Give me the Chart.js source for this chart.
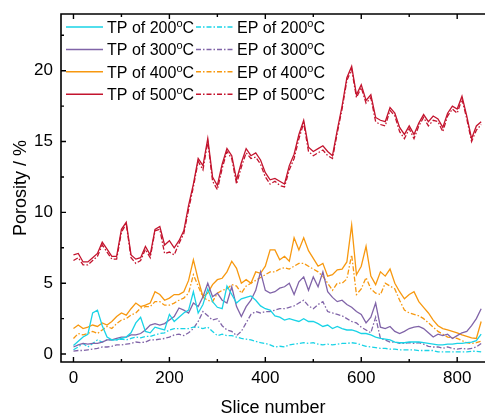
<!DOCTYPE html>
<html>
<head>
<meta charset="utf-8">
<script src="https://cdn.jsdelivr.net/npm/chart.js@4.4.1/dist/chart.umd.min.js"></script>
<style>
  html, body { margin: 0; padding: 0; background: #fff; }
  #wrap { width: 485px; height: 414px; position: relative; }
</style>
</head>
<body>
<div id="wrap"><canvas id="porosityChart"></canvas></div>
<script>
// slice numbers sampled every 10 slices
const slices = [0, 10, 20, 30, 40, 50, 60, 70, 80, 90,
    100, 110, 120, 130, 140, 150, 160, 170, 180, 190,
    200, 210, 220, 230, 240, 250, 260, 270, 280, 290,
    300, 310, 320, 330, 340, 350, 360, 370, 380, 390,
    400, 410, 420, 430, 440, 450, 460, 470, 480, 490,
    500, 510, 520, 530, 540, 550, 560, 570, 580, 590,
    600, 610, 620, 630, 640, 650, 660, 670, 680, 690,
    700, 710, 720, 730, 740, 750, 760, 770, 780, 790,
    800, 810, 820, 830, 840, 850];

const tp200 = [0.6, 0.9, 1.2, 1.4, 2.9, 3.1, 2.0, 1.2, 1.0, 1.0,
    1.1, 1.2, 1.5, 2.2, 2.6, 1.6, 1.5, 1.9, 1.8, 1.7,
    2.8, 2.3, 2.6, 2.9, 3.1, 4.4, 2.9, 3.5, 4.6, 3.7,
    3.3, 3.2, 4.8, 4.2, 3.6, 3.9, 4.0, 4.1, 3.8, 3.4,
    3.2, 3.1, 2.7, 2.6, 2.4, 2.5, 2.4, 2.3, 2.5, 2.3,
    2.3, 2.15, 1.95, 2.05, 1.8, 1.95, 1.8, 1.7, 1.7, 1.6,
    1.45, 1.45, 1.35, 1.2, 1.1, 1.05, 1.0, 0.85, 0.8, 0.8,
    0.85, 0.85, 0.85, 0.8, 0.75, 0.7, 0.65, 0.65, 0.7, 0.7,
    0.75, 0.75, 0.8, 0.85, 0.95, 1.4];
const tp300 = [0.5, 0.65, 0.75, 0.7, 0.75, 0.75, 0.85, 1.0, 1.0, 1.1,
    1.2, 1.2, 1.35, 1.35, 1.45, 1.7, 2.05, 2.15, 2.05, 2.15,
    2.4, 2.65, 3.25, 3.1, 2.9, 3.6, 3.35, 4.05, 5.0, 4.05,
    4.3, 3.8, 3.6, 4.75, 3.35, 2.65, 3.35, 3.8, 4.5, 5.8,
    4.5, 4.3, 4.4, 4.65, 4.75, 5.0, 4.2, 5.1, 5.45, 4.5,
    5.45, 4.75, 5.8, 4.4, 4.0, 3.7, 3.8, 3.5, 3.3, 3.0,
    2.8, 2.2, 2.6, 3.6, 1.9, 1.8, 1.95, 1.6, 1.45, 1.6,
    1.8, 1.9, 1.95, 1.8, 1.5, 1.2, 1.4, 1.3, 1.4, 1.1,
    1.3, 1.5, 1.6, 2.0, 2.5, 3.2];
const tp400 = [1.8, 2.05, 1.8, 1.9, 2.05, 1.95, 2.2, 2.05, 2.3, 2.65,
    2.9, 2.75, 3.2, 3.6, 3.35, 3.45, 3.6, 4.4, 4.2, 3.8,
    3.95, 4.2, 4.2, 4.4, 5.2, 6.65, 5.25, 4.05, 4.3, 4.9,
    5.25, 5.35, 5.8, 6.55, 6.05, 5.0, 5.25, 5.0, 5.8, 5.7,
    6.2, 7.35, 7.35, 6.65, 6.9, 6.55, 8.2, 7.35, 8.2, 7.3,
    6.75, 6.2, 6.4, 5.5, 5.6, 5.95, 6.0, 6.5, 9.1, 5.6,
    6.2, 7.6, 5.5, 4.9, 5.8, 5.5, 6.0, 5.0, 4.4, 3.9,
    4.2, 4.4, 3.7, 3.3, 2.9, 2.4, 2.0, 1.8, 1.7, 1.6,
    1.5, 1.35, 1.25, 1.15, 1.1, 2.3];
const tp500 = [7.0, 7.1, 6.5, 6.5, 6.8, 7.1, 7.9, 7.4, 6.9, 6.9,
    8.8, 9.3, 7.0, 6.7, 6.8, 7.6, 7.0, 8.8, 9.0, 7.7,
    8.0, 7.5, 8.0, 8.7, 10.5, 12.0, 13.8, 13.3, 15.2, 12.5,
    11.9, 13.4, 14.5, 14.0, 12.3, 13.5, 14.5, 14.0, 14.2, 13.7,
    12.8, 12.3, 12.4, 12.2, 12.0, 13.3, 14.1, 15.5, 16.5, 14.6,
    14.3, 14.5, 14.7, 14.3, 14.0, 15.8, 17.5, 19.5, 20.3, 18.3,
    19.0, 17.9, 18.3, 16.7, 16.5, 16.4, 17.4, 17.0, 16.0, 15.5,
    16.1, 15.5, 16.3, 16.9, 16.4, 16.8, 16.6, 16.0, 17.0, 17.5,
    17.3, 18.2, 16.8, 15.2, 16.1, 16.4];

const ep200 = [0.3, 0.5, 0.75, 0.5, 0.75, 1.0, 0.85, 1.0, 1.0, 1.0,
    1.05, 1.0, 1.1, 1.2, 1.15, 1.25, 1.25, 1.35, 1.45, 1.5,
    1.7, 1.8, 1.8, 1.8, 1.8, 1.9, 1.9, 1.8, 1.9, 1.6,
    1.3, 1.4, 1.3, 1.3, 1.2, 1.1, 1.05, 1.0, 0.9, 0.8,
    0.75, 0.65, 0.5, 0.55, 0.5, 0.65, 0.7, 0.75, 0.8, 0.75,
    0.8, 0.7, 0.65, 0.7, 0.65, 0.7, 0.75, 0.75, 0.8, 0.75,
    0.65, 0.55, 0.5, 0.45, 0.4, 0.4, 0.35, 0.35, 0.3, 0.3,
    0.3, 0.3, 0.25, 0.25, 0.25, 0.25, 0.15, 0.15, 0.15, 0.15,
    0.15, 0.15, 0.15, 0.2, 0.2, 0.15];
const ep300 = [0.2, 0.25, 0.25, 0.3, 0.35, 0.4, 0.5, 0.5, 0.55, 0.65,
    0.65, 0.7, 0.75, 0.85, 0.8, 0.85, 1.0, 1.0, 1.05, 1.1,
    1.2, 1.35, 1.4, 1.3, 1.5, 1.8, 2.3, 3.0, 2.7, 2.4,
    2.5, 2.0, 1.7, 1.6, 1.3, 1.6, 2.2, 2.8, 3.0, 2.9,
    3.0, 3.0, 3.1, 3.2, 3.2, 3.3, 3.4, 3.6, 3.8, 3.4,
    3.2, 3.5, 3.7, 3.0, 2.9, 2.8, 2.7, 2.5, 2.3, 2.2,
    1.9, 1.7, 1.5, 2.6, 1.1, 1.0, 0.85, 0.85, 0.75, 0.75,
    0.8, 0.75, 0.8, 0.7, 0.55, 0.5, 0.5, 0.4, 0.5, 0.4,
    0.35, 0.4, 0.35, 0.4, 0.5, 0.75];
const ep400 = [1.1, 1.45, 1.35, 1.45, 1.6, 1.45, 1.7, 1.95, 1.8, 2.15,
    2.4, 2.5, 2.75, 2.9, 3.25, 3.35, 3.35, 3.7, 3.7, 3.45,
    3.45, 3.6, 3.8, 3.95, 4.3, 5.6, 4.8, 4.0, 3.8, 3.7,
    4.3, 4.5, 4.6, 4.9, 4.8, 4.3, 4.8, 5.0, 5.2, 5.4,
    5.6, 5.8, 5.8, 6.0, 6.1, 6.0, 6.2, 6.4, 6.4, 6.2,
    6.0, 5.8, 5.5, 5.0, 4.5, 5.0, 5.0, 5.3, 7.0, 4.2,
    4.6, 5.4, 4.6, 4.3, 4.2, 5.0, 4.8, 4.6, 3.8, 3.1,
    2.9, 2.8, 2.7, 2.5, 2.2, 1.9, 1.6, 1.4, 1.2, 1.15,
    1.1, 0.95, 0.8, 0.75, 0.8, 0.9];
const ep500 = [6.6, 6.8, 6.3, 6.3, 6.6, 6.9, 7.7, 7.2, 6.7, 6.7,
    8.6, 9.2, 6.8, 6.4, 6.6, 7.4, 6.8, 8.7, 8.8, 7.1,
    7.2, 7.0, 7.8, 8.5, 10.2, 11.8, 13.6, 13.0, 15.0, 12.2,
    11.6, 13.1, 14.3, 13.8, 12.0, 13.2, 14.2, 13.8, 13.9, 13.4,
    12.5, 12.0, 12.2, 11.9, 11.8, 13.0, 13.8, 15.2, 16.3, 14.3,
    14.0, 14.2, 14.4, 14.0, 13.8, 15.6, 17.3, 19.3, 20.1, 18.1,
    18.8, 17.7, 18.1, 16.4, 16.2, 16.1, 17.2, 16.8, 15.7, 15.2,
    15.9, 15.2, 16.1, 16.7, 16.1, 16.5, 16.4, 15.7, 16.8, 17.3,
    17.0, 18.0, 16.6, 15.0, 15.8, 16.2];

const xTicks = [0, 200, 400, 600, 800];
const xMinorTicks = [100, 300, 500, 700];
const yTicks = [0, 5, 10, 15, 20];
const yMinorTicks = [2.5, 7.5, 12.5, 17.5, 22.5];

const FONT = "'Liberation Sans', Arial, sans-serif";
const dashDot = [5, 2, 1.5, 2];

function series(vals) {
    return slices.map((s, i) => ({ x: s, y: vals[i] }));
}

function makeSet(label, vals, color, dash) {
    return {
        label: label,
        data: series(vals),
        borderColor: color,
        borderWidth: 1.3,
        borderDash: dash,
        pointRadius: 0,
        tension: 0,
        fill: false
    };
}

// frame (left, top, bottom; right side lies past the canvas edge) with inward ticks
const framePlugin = {
    id: 'frame',
    afterDraw(chart) {
        const ctx = chart.ctx;
        const a = chart.chartArea;
        const x = chart.scales.x, y = chart.scales.y;
        ctx.save();
        ctx.strokeStyle = '#000';
        ctx.lineWidth = 1.6;
        ctx.beginPath();
        ctx.moveTo(a.right + 2, a.top);
        ctx.lineTo(a.left, a.top);
        ctx.lineTo(a.left, a.bottom);
        ctx.lineTo(a.right + 2, a.bottom);
        ctx.stroke();
        ctx.lineWidth = 1.4;
        ctx.beginPath();
        xTicks.concat(xMinorTicks).forEach(v => {
            const p = x.getPixelForValue(v);
            const len = xTicks.includes(v) ? 5 : 3;
            ctx.moveTo(p, a.bottom); ctx.lineTo(p, a.bottom - len);
            ctx.moveTo(p, a.top); ctx.lineTo(p, a.top + len);
        });
        yTicks.concat(yMinorTicks).forEach(v => {
            const p = y.getPixelForValue(v);
            const len = yTicks.includes(v) ? 5 : 3;
            ctx.moveTo(a.left, p); ctx.lineTo(a.left + len, p);
        });
        ctx.stroke();
        ctx.restore();
    }
};

function drawLegendItem(ctx, d, x, y) {
    ctx.strokeStyle = d.borderColor;
    ctx.lineWidth = 1.5;
    ctx.setLineDash(d.borderDash || []);
    ctx.beginPath();
    ctx.moveTo(x, y);
    ctx.lineTo(x + 37, y);
    ctx.stroke();
    ctx.setLineDash([]);

    const parts = d.label.split('°');
    const base = y + 6;
    let tx = x + 41;
    ctx.fillStyle = '#000';
    ctx.textBaseline = 'alphabetic';
    ctx.textAlign = 'left';
    ctx.font = '16px ' + FONT;
    ctx.fillText(parts[0], tx, base);
    tx += ctx.measureText(parts[0]).width;
    ctx.font = '11px ' + FONT;
    ctx.fillText('o', tx, base - 6);
    tx += ctx.measureText('o').width;
    ctx.font = '16px ' + FONT;
    ctx.fillText(parts[1], tx, base);
}

const legendPlugin = {
    id: 'cornerLegend',
    afterDraw(chart) {
        const ctx = chart.ctx;
        const ds = chart.data.datasets;
        ctx.save();
        for (let i = 0; i < 4; i++) {
            const rowY = 27 + i * 22.4;
            drawLegendItem(ctx, ds[i], 66, rowY);
            drawLegendItem(ctx, ds[i + 4], 196, rowY);
        }
        ctx.restore();
    }
};

const ctx = document.getElementById('porosityChart').getContext('2d');
const porosityChart = new Chart(ctx, {
    type: 'line',
    data: {
        datasets: [
            makeSet('TP of 200°C', tp200, '#19d3e6', []),
            makeSet('TP of 300°C', tp300, '#8064a8', []),
            makeSet('TP of 400°C', tp400, '#f7980f', []),
            makeSet('TP of 500°C', tp500, '#c3142e', []),
            makeSet('EP of 200°C', ep200, '#19d3e6', dashDot),
            makeSet('EP of 300°C', ep300, '#8064a8', dashDot),
            makeSet('EP of 400°C', ep400, '#f7980f', dashDot),
            makeSet('EP of 500°C', ep500, '#c3142e', dashDot)
        ]
    },
    options: {
        responsive: true,
        maintainAspectRatio: false,
        animation: false,
        devicePixelRatio: 1,
        layout: { padding: { left: 0, right: 0, top: 14, bottom: 0 } },
        plugins: {
            legend: { display: false },
            tooltip: { enabled: false }
        },
        scales: {
            x: {
                type: 'linear',
                min: -26,
                max: 858,
                afterFit: s => { s.height = 52; s.paddingLeft = 0; s.paddingRight = 0; },
                afterBuildTicks: s => { s.ticks = xTicks.map(v => ({ value: v })); },
                grid: { display: false, drawTicks: false },
                border: { display: false },
                ticks: {
                    color: '#000',
                    padding: 6,
                    maxRotation: 0,
                    autoSkip: false,
                    font: { family: FONT, size: 17 }
                },
                title: {
                    display: true,
                    text: 'Slice number',
                    color: '#000',
                    font: { family: FONT, size: 18 },
                    padding: { top: 0, bottom: -5 }
                }
            },
            y: {
                min: -0.56,
                max: 24,
                afterFit: s => { s.width = 61; s.paddingTop = 0; s.paddingBottom = 0; },
                afterBuildTicks: s => { s.ticks = yTicks.map(v => ({ value: v })); },
                grid: { display: false, drawTicks: false },
                border: { display: false },
                ticks: {
                    color: '#000',
                    padding: 8,
                    font: { family: FONT, size: 17 }
                },
                title: {
                    display: true,
                    text: 'Porosity / %',
                    color: '#000',
                    font: { family: FONT, size: 18 },
                    padding: { top: 10, bottom: 0 }
                }
            }
        }
    },
    plugins: [framePlugin, legendPlugin]
});
</script>
</body>
</html>
